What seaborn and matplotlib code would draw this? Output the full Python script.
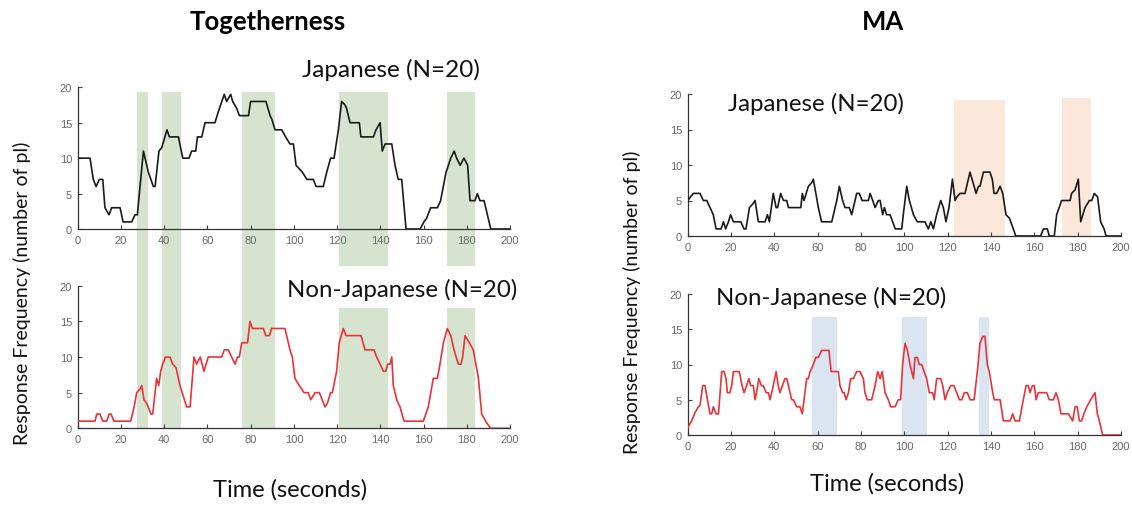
import matplotlib
matplotlib.use("Agg")
import matplotlib.pyplot as plt
import seaborn as sns
import pandas as pd

# ---------------- data ----------------
# Togetherness – Japanese
tog_jp_t = [0, 5.7, 7.2, 8.5, 10, 11.6, 12.6, 14.5, 15.7, 19.6, 21, 25, 26.5, 27.6, 30.4, 32.7, 35, 35.8,
            37.6, 38.9, 41.3, 42.4, 46.6, 48.6, 51.5, 52.7, 54.6, 55.4, 57.4, 58.9, 63.5, 65, 67.8, 68.9,
            70.8, 71.7, 73.6, 74.8, 79, 80, 87.1, 89, 89.8, 91.3, 94.4, 96.2, 98.2, 99.8, 101, 102.5, 104,
            106, 109, 110.3, 113.6, 115.2, 117, 118.6, 120.6, 122.1, 123.7, 124.4, 126, 130.3, 131, 136.8,
            138, 139.9, 140.9, 142.2, 145.3, 146.8, 148.3, 149.9, 151.9, 158.4, 160.2, 161.4, 163.3, 166.4,
            167.9, 170.4, 172.6, 174.2, 175.3, 176.9, 178.7, 180.4, 181.5, 183.8, 184.9, 186.1, 188, 191.1, 200]
tog_jp_v = [10, 10, 7, 6, 7, 7, 3, 2, 3, 3, 1, 1, 2, 2, 11, 8, 6, 6,
            11, 11.5, 14, 13, 13, 10, 10, 11, 11, 13, 13, 15, 15, 16.5, 19, 18,
            19, 18, 17, 16, 16, 18, 18, 16, 15.5, 14, 14, 13, 12, 12, 9, 8.5, 8,
            7, 7, 6, 6, 8, 10, 10, 14, 18, 17.5, 17, 15, 15, 13, 13,
            14, 15, 11, 12, 12, 9, 7, 7, 0, 0, 1, 1.5, 3, 3,
            4, 8, 10, 11, 10, 9, 10, 9, 4, 4, 5, 4, 4, 0, 0]

# Togetherness – Non-Japanese
tog_nj_t = [0, 8, 8.8, 10.3, 11.6, 13.4, 14.6, 15.4, 16.8, 24.5, 26.1, 27.3, 28.8, 29.6, 30.7, 31.9, 33.9,
            34.7, 35.8, 36.5, 37.5, 38.4, 39.3, 40.6, 42.7, 43.9, 45.5, 47.3, 50.4, 52, 53.8, 55, 56.7, 58.4,
            60.4, 66.6, 67.8, 69.7, 71.2, 72.8, 73.9, 74.8, 75.9, 78.6, 79.7, 80.8, 85.9, 87, 88.7, 89.7,
            95.9, 98.2, 99.3, 100.5, 102.5, 104.7, 106.7, 107.8, 109.8, 111.8, 114.4, 115.5, 117, 117.8,
            119.8, 121, 122.9, 124.1, 131.1, 132.9, 137.1, 138.3, 139.9, 141.4, 142.5, 143.4, 144.5, 145.3,
            146, 147.6, 149.1, 151, 159.9, 162.2, 164.5, 166.4, 167.6, 169.2, 171, 172.6, 174.1, 176.1,
            177.3, 178.1, 179.2, 181.2, 183, 185.4, 186.9, 188.7, 191, 200]
tog_nj_v = [1, 1, 2, 2, 1, 1, 2, 2, 1, 1, 3, 5, 5.5, 6, 4, 3.5, 2,
            2, 5, 7, 6, 8, 9, 10, 10, 9, 8.5, 6, 3, 3, 10, 9, 10, 8,
            10, 10, 11, 11, 10, 9, 10, 10, 12, 12, 15, 14, 14, 13, 13, 14,
            14, 11, 10, 7, 6, 5, 5, 4, 5, 5, 3, 3.5, 5, 5,
            8, 12, 14, 13, 13, 11, 11, 10, 9, 8, 8, 9, 9, 10,
            6, 4, 3, 1, 1, 3, 7, 7, 9, 12, 14, 13, 11, 9,
            9, 10, 13, 12, 11, 7, 2, 1, 0, 0]

# MA – Japanese
ma_jp_t = [0, 2.6, 5.7, 7.2, 8.8, 10.3, 11.8, 13.1, 15.4, 16.5, 17.5, 18.8, 19.8, 21.1, 24.5, 26, 26.9,
           28.5, 30, 31.1, 32.6, 35.7, 36.8, 37.7, 39.5, 40.8, 41.5, 42.9, 44.2, 45.7, 46.5, 52.2, 52.9,
           53.7, 55.7, 57.2, 58, 60.3, 61.8, 66.5, 68.8, 70, 71.5, 72.6, 74.6, 75.7, 78, 79.2, 80.5, 83.4,
           84.2, 85.4, 86.5, 88, 88.8, 90, 90.8, 91.8, 93.4, 95.8, 98.8, 99.5, 101.1, 102.3, 104.2, 106,
           109.5, 111.1, 112.2, 113.4, 114.9, 116.8, 118, 119.2, 120.6, 122.2, 123.4, 124.2, 125.7, 128,
           130.3, 132.2, 133.1, 134.2, 134.9, 136.5, 139.5, 140.6, 141.4, 142.6, 144.2, 145.4, 146.9, 148.5,
           150.3, 151.4, 162.9, 164.2, 166, 166.9, 169.2, 170.3, 172.6, 176.5, 177.2, 178.8, 180.3, 181.4,
           183.4, 185.4, 186.5, 187.7, 189.2, 190.6, 192.2, 193.1, 200]
ma_jp_v = [5, 6, 6, 5, 5, 4, 3, 1, 1, 2, 1, 2, 3, 2, 2, 1, 1,
           4, 4.5, 5, 2, 2, 3, 2, 6, 4, 4, 6, 5, 5, 4, 4, 6,
           5, 7, 7.5, 8, 4, 2, 2, 5, 7, 5, 4, 4, 3, 6, 6, 5, 5,
           6, 5, 4, 5, 5, 3, 4, 3, 3, 1, 1, 3, 7, 5, 3, 2,
           2, 1, 2, 1, 3, 5, 4, 2, 4, 8, 5, 5.5, 6, 6,
           9, 7, 6, 7, 7, 9, 9, 8, 6, 6, 7, 6, 3, 2.5,
           1, 0, 0, 1, 1, 0, 0, 3, 5, 5, 6, 6.5, 8, 2,
           4, 5, 5, 6, 5.5, 2, 1, 0, 0]

# MA – Non-Japanese
ma_nj_t = [0, 1.8, 3.1, 4.9, 5.7, 6.9, 8, 9.1, 10.3, 11.1, 11.8, 13.1, 14.2, 15.7, 16.8, 17.7, 18.3, 19.5,
           20.3, 21.1, 23.8, 25.1, 26, 27.2, 28.2, 29.1, 30.3, 31.1, 31.8, 32.8, 34, 34.9, 36.2, 37.2, 38,
           39.5, 40.8, 41.8, 42.6, 43.7, 44.9, 45.7, 47.2, 48, 48.8, 50.3, 51.8, 52.9, 53.7, 54.9, 55.7,
           56.5, 58, 59.1, 60.3, 61.8, 65.2, 66.2, 69.5, 70.3, 71.5, 72.2, 73.1, 74.2, 75.2, 76.5, 78, 79.5,
           81.1, 81.8, 82.9, 84.9, 86.5, 87.7, 88.8, 89.8, 91.1, 92.6, 93.7, 95.7, 97.2, 98.3, 99.2, 100.3,
           101.4, 102.6, 104.2, 104.9, 106, 106.9, 108, 109.1, 110.3, 111.5, 113.1, 113.8, 114.9, 116.8,
           117.7, 118.8, 119.8, 121.4, 122.9, 124.2, 125.4, 126.5, 127.7, 129.1, 130.3, 132.2, 133.7, 134.9,
           136.2, 137.2, 138.3, 139.2, 140.8, 141.5, 144.2, 145.7, 148.8, 150, 151.1, 153.1, 154.9, 156.2,
           157.2, 158, 159.1, 160, 160.8, 161.8, 165.7, 166.9, 168.8, 170, 171.1, 172.3, 175.7, 177.7, 178.8,
           179.8, 180.8, 181.8, 182.9, 184.2, 186, 188, 189.1, 190, 191.5, 200]
ma_nj_v = [1, 2, 3, 4, 4.2, 7, 7, 5, 3, 3, 4, 3, 3, 9, 9, 8, 6, 6,
           7, 9, 9, 7, 6, 7, 8, 7, 7, 5, 6, 8, 7, 7, 6, 6, 5,
           7, 9, 7, 6, 7, 8, 8, 6, 5, 5, 4, 4, 3, 5, 8, 8,
           9, 10, 11, 11, 12, 12, 9, 9, 7, 6, 6, 5, 6, 8, 8, 9, 9,
           8, 6, 5, 5, 7, 9, 8, 9, 6, 5, 4, 4, 5, 5, 10, 13,
           12, 10, 8, 11, 11, 10, 10, 9, 8, 6, 6, 5, 8, 8,
           7, 5, 6, 7, 7, 6, 5, 5, 6, 6, 5, 5, 9, 13,
           14, 14, 10, 9, 6, 5, 5, 2, 2, 3, 2, 2, 5, 7,
           7, 6, 7, 7, 5, 6, 6, 5, 5, 6, 5, 3, 3, 2, 4,
           4, 2, 2, 3, 4, 5, 6, 3, 2, 0, 0]

# highlighted intervals (seconds)
tog_span_start = [27.6, 39.0, 75.9, 120.9, 170.7]
tog_span_end = [32.4, 47.6, 91.3, 143.4, 184.0]
ma_jp_span_start = [123.1, 172.9]
ma_jp_span_end = [146.5, 186.0]
ma_nj_span_start = [57.5, 98.8, 134.5]
ma_nj_span_end = [68.9, 110.3, 138.9]

x_ticks = [0, 20, 40, 60, 80, 100, 120, 140, 160, 180, 200]
y_ticks = [0, 5, 10, 15, 20]

# ---------------- styling ----------------
sns.set_theme(style="ticks")
plt.rcParams['font.family'] = ['Lato', 'DejaVu Sans']

GREEN = "#d6e3cf"
ORANGE = "#fbe8da"
BLUE = "#dbe5f2"
BLACK = "#1a1a1a"
RED = "#e8333a"

W, H = 1132, 506
fig = plt.figure(figsize=(W / 100, H / 100), dpi=100)


def make_ax(left_px, right_px, top_px, bottom_px):
    ax = fig.add_axes([left_px / W, (H - bottom_px) / H, (right_px - left_px) / W, (bottom_px - top_px) / H])
    ax.patch.set_alpha(0)
    return ax


ax_tj = make_ax(77.7, 510, 88.3, 230)
ax_tn = make_ax(77.7, 510, 286.7, 429.3)
ax_mj = make_ax(687.7, 1121, 95, 237)
ax_mn = make_ax(687.7, 1121, 295, 436)

# spans: Togetherness (first three are continuous through both panels)
for i, (s, e) in enumerate(zip(tog_span_start, tog_span_end)):
    if i < 3:
        ax_tj.axvspan(s, e, ymin=-0.41, ymax=19.3 / 20, color=GREEN, lw=0, clip_on=False, zorder=0)
        ax_tn.axvspan(s, e, ymin=0, ymax=1.0, color=GREEN, lw=0, clip_on=False, zorder=0)
    else:
        ax_tj.axvspan(s, e, ymin=-0.26, ymax=19.3 / 20, color=GREEN, lw=0, clip_on=False, zorder=0)
        ax_tn.axvspan(s, e, ymin=0, ymax=16.9 / 20, color=GREEN, lw=0, clip_on=False, zorder=0)

ma_jp_tops = [19.2, 19.4]
for (s, e), top in zip(zip(ma_jp_span_start, ma_jp_span_end), ma_jp_tops):
    ax_mj.axvspan(s, e, ymin=0, ymax=top / 20, color=ORANGE, lw=0, zorder=0)
for s, e in zip(ma_nj_span_start, ma_nj_span_end):
    ax_mn.axvspan(s, e, ymin=0, ymax=16.8 / 20, color=BLUE, lw=0, zorder=0)

series = [
    (ax_tj, tog_jp_t, tog_jp_v, BLACK),
    (ax_tn, tog_nj_t, tog_nj_v, RED),
    (ax_mj, ma_jp_t, ma_jp_v, BLACK),
    (ax_mn, ma_nj_t, ma_nj_v, RED),
]
for ax, t, v, c in series:
    df = pd.DataFrame({"t": t, "v": v})
    sns.lineplot(data=df, x="t", y="v", ax=ax, color=c, linewidth=1.2, sort=False, estimator=None, zorder=3)
    ax.set_xlim(0, 200)
    ax.set_ylim(0, 20)
    ax.set_xticks(x_ticks)
    ax.set_yticks(y_ticks)
    ax.set_xlabel("")
    ax.set_ylabel("")
    ax.tick_params(direction="in", length=3, width=0.8, colors="#444444", labelcolor="#6a6a6a",
                   labelsize=8, pad=4)
    for lab in ax.get_xticklabels() + ax.get_yticklabels():
        lab.set_family(['Liberation Sans', 'DejaVu Sans'])
    for sp in ("top", "right"):
        ax.spines[sp].set_visible(False)
    for sp in ("left", "bottom"):
        ax.spines[sp].set_color("#333333")
        ax.spines[sp].set_linewidth(0.9)

# ---------------- text ----------------
def ftext(x, y, s, **kw):
    fig.text(x / W, 1 - y / H, s, **kw)

ftext(268, 22, "Togetherness", ha="center", va="center", fontsize=18.5, fontweight="bold", color="black")
ftext(883, 22, "MA", ha="center", va="center", fontsize=18.5, fontweight="bold", color="black")

ftext(391, 70, "Japanese (N=20)", ha="center", va="center", fontsize=17.5, color="#111111")
ftext(402, 290, "Non-Japanese (N=20)", ha="center", va="center", fontsize=17.3, color="#111111")
ftext(816, 104, "Japanese (N=20)", ha="center", va="center", fontsize=17.3, color="#111111")
ftext(831, 298, "Non-Japanese (N=20)", ha="center", va="center", fontsize=17.3, color="#111111")

ftext(22, 293, "Response Frequency (number of pl)", ha="center", va="center", rotation=90,
      fontsize=14, color="#111111")
ftext(632, 302, "Response Frequency (number of pl)", ha="center", va="center", rotation=90,
      fontsize=14, color="#111111")

ftext(290, 490, "Time (seconds)", ha="center", va="center", fontsize=17, color="#111111")
ftext(887, 484, "Time (seconds)", ha="center", va="center", fontsize=17, color="#111111")

fig.savefig("out.png", dpi=100, facecolor="white")
